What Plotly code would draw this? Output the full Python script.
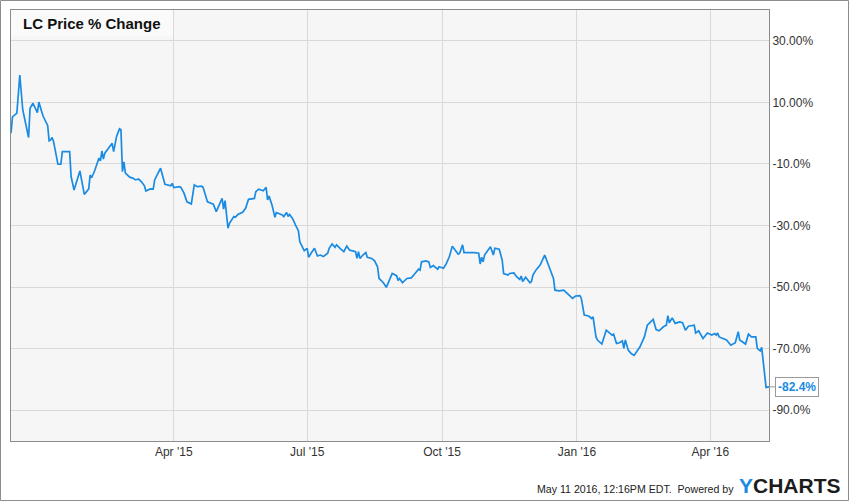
import plotly.graph_objects as go

dates = [
    "2014-12-11", "2014-12-12", "2014-12-15", "2014-12-17", "2014-12-19", "2014-12-21", "2014-12-23", "2014-12-24",
    "2014-12-26", "2014-12-29", "2014-12-30", "2015-01-01", "2015-01-02", "2015-01-05", "2015-01-06", "2015-01-07",
    "2015-01-08", "2015-01-09", "2015-01-12", "2015-01-14", "2015-01-15", "2015-01-20", "2015-01-21", "2015-01-23",
    "2015-01-27", "2015-01-30", "2015-02-02", "2015-02-03", "2015-02-04", "2015-02-06", "2015-02-09", "2015-02-10",
    "2015-02-11", "2015-02-12", "2015-02-13", "2015-02-18", "2015-02-19", "2015-02-21", "2015-02-23", "2015-02-24",
    "2015-02-25", "2015-02-26", "2015-02-27", "2015-03-02", "2015-03-04", "2015-03-06", "2015-03-08", "2015-03-10",
    "2015-03-12", "2015-03-13", "2015-03-16", "2015-03-18", "2015-03-19", "2015-03-23", "2015-03-26", "2015-03-30",
    "2015-03-31", "2015-04-01", "2015-04-05", "2015-04-06", "2015-04-08", "2015-04-10", "2015-04-12", "2015-04-13",
    "2015-04-15", "2015-04-17", "2015-04-20", "2015-04-21", "2015-04-24", "2015-04-28", "2015-04-30", "2015-05-04",
    "2015-05-05", "2015-05-06", "2015-05-08", "2015-05-09", "2015-05-12", "2015-05-13", "2015-05-15", "2015-05-18",
    "2015-05-20", "2015-05-22", "2015-05-26", "2015-05-27", "2015-05-29", "2015-06-01", "2015-06-03", "2015-06-04",
    "2015-06-05", "2015-06-07", "2015-06-09", "2015-06-10", "2015-06-14", "2015-06-15", "2015-06-17", "2015-06-18",
    "2015-06-19", "2015-06-21", "2015-06-23", "2015-06-25", "2015-06-26", "2015-06-28", "2015-06-29", "2015-07-01",
    "2015-07-02", "2015-07-04", "2015-07-06", "2015-07-08", "2015-07-10", "2015-07-12", "2015-07-15", "2015-07-16",
    "2015-07-18", "2015-07-20", "2015-07-21", "2015-07-24", "2015-07-26", "2015-07-28", "2015-07-30", "2015-08-03",
    "2015-08-04", "2015-08-05", "2015-08-06", "2015-08-08", "2015-08-10", "2015-08-11", "2015-08-14", "2015-08-16",
    "2015-08-18", "2015-08-19", "2015-08-22", "2015-08-24", "2015-08-26", "2015-08-28", "2015-08-31", "2015-09-01",
    "2015-09-02", "2015-09-04", "2015-09-07", "2015-09-10", "2015-09-12", "2015-09-15", "2015-09-16", "2015-09-17",
    "2015-09-20", "2015-09-22", "2015-09-23", "2015-09-25", "2015-09-28", "2015-09-29", "2015-10-02", "2015-10-04",
    "2015-10-06", "2015-10-08", "2015-10-10", "2015-10-12", "2015-10-13", "2015-10-15", "2015-10-16", "2015-10-20",
    "2015-10-21", "2015-10-23", "2015-10-26", "2015-10-27", "2015-10-28", "2015-10-29", "2015-10-30", "2015-11-01",
    "2015-11-03", "2015-11-05", "2015-11-06", "2015-11-09", "2015-11-11", "2015-11-12", "2015-11-15", "2015-11-16",
    "2015-11-19", "2015-11-21", "2015-11-23", "2015-11-24", "2015-11-25", "2015-11-27", "2015-11-30", "2015-12-01",
    "2015-12-02", "2015-12-04", "2015-12-07", "2015-12-10", "2015-12-12", "2015-12-15", "2015-12-16", "2015-12-17",
    "2015-12-20", "2015-12-23", "2015-12-25", "2015-12-27", "2015-12-29", "2015-12-31", "2016-01-03", "2016-01-04",
    "2016-01-06", "2016-01-09", "2016-01-11", "2016-01-12", "2016-01-14", "2016-01-15", "2016-01-18", "2016-01-21",
    "2016-01-25", "2016-01-26", "2016-01-28", "2016-01-30", "2016-02-01", "2016-02-02", "2016-02-03", "2016-02-05",
    "2016-02-07", "2016-02-09", "2016-02-13", "2016-02-16", "2016-02-18", "2016-02-22", "2016-02-24", "2016-02-26",
    "2016-02-29", "2016-03-02", "2016-03-03", "2016-03-04", "2016-03-06", "2016-03-08", "2016-03-11", "2016-03-13",
    "2016-03-15", "2016-03-17", "2016-03-21", "2016-03-22", "2016-03-24", "2016-03-27", "2016-03-30", "2016-04-02",
    "2016-04-04", "2016-04-05", "2016-04-06", "2016-04-07", "2016-04-12", "2016-04-15", "2016-04-18", "2016-04-20",
    "2016-04-21", "2016-04-25", "2016-04-27", "2016-04-29", "2016-05-02", "2016-05-03", "2016-05-05", "2016-05-06",
    "2016-05-09", "2016-05-11",
]

pct_change = [
    0.0, 5.3, 6.5, 18.9, 7.6, 3.2, -1.4, 8.1,
    9.7, 6.7, 10.1, 6.9, 5.4, 2.5, -2.5, -2.2,
    -1.4, -2.7, -10.1, -10.1, -6.0, -6.0, -14.1, -18.5,
    -12.3, -19.9, -18.1, -13.6, -14.5, -12.3, -8.1, -9.0,
    -5.8, -8.4, -6.5, -3.3, -6.0, -1.1, 1.4, 1.1,
    -12.5, -9.3, -13.0, -14.3, -14.6, -15.2, -14.9, -15.8,
    -17.1, -18.8, -18.1, -18.2, -15.2, -11.4, -16.6, -17.1,
    -16.3, -17.7, -17.4, -17.7, -19.5, -22.3, -22.8, -23.0,
    -16.8, -17.4, -17.2, -17.6, -22.3, -23.1, -25.5, -21.2,
    -24.7, -21.9, -30.9, -29.3, -27.1, -27.3, -26.3, -25.7,
    -24.4, -21.5, -21.2, -19.0, -18.2, -18.7, -17.6, -21.7,
    -20.4, -23.3, -27.3, -25.8, -26.6, -27.1, -25.8, -27.1,
    -26.4, -27.7, -29.8, -31.7, -35.3, -37.4, -38.2, -37.4,
    -40.3, -38.8, -37.4, -39.9, -39.6, -40.1, -39.0, -37.4,
    -36.0, -37.1, -36.3, -37.7, -38.5, -36.7, -38.0, -38.5,
    -40.7, -38.5, -40.7, -39.6, -38.8, -40.3, -40.7, -41.5,
    -43.4, -47.2, -48.6, -50.1, -47.7, -45.6, -46.3, -47.9,
    -47.2, -48.6, -47.2, -47.0, -45.9, -44.2, -44.5, -41.8,
    -41.5, -41.8, -43.6, -43.0, -44.2, -43.4, -43.9, -42.3,
    -40.1, -36.7, -38.0, -39.3, -39.0, -36.3, -38.8, -38.8,
    -38.6, -38.8, -39.0, -42.5, -40.3, -41.8, -39.6, -38.2,
    -36.9, -39.6, -37.4, -37.7, -41.2, -45.6, -46.1, -45.6,
    -45.4, -46.7, -47.5, -46.4, -48.2, -46.8, -48.6, -48.2,
    -46.1, -44.5, -42.8, -39.6, -42.3, -46.1, -47.2, -51.0,
    -51.2, -51.0, -51.9, -52.6, -53.7, -52.9, -52.8, -53.7,
    -59.1, -59.4, -60.2, -59.7, -66.2, -67.2, -68.5, -64.0,
    -65.6, -65.3, -68.3, -68.1, -67.5, -69.9, -67.2, -70.5,
    -71.6, -72.2, -69.4, -66.2, -62.4, -60.5, -63.8, -64.2,
    -62.9, -62.4, -59.3, -61.6, -60.0, -61.8, -61.3, -61.6,
    -64.0, -62.7, -62.4, -64.9, -64.2, -66.7, -64.9, -65.6,
    -65.1, -65.6, -64.9, -66.2, -67.2, -68.9, -68.1, -64.5,
    -67.2, -68.5, -65.3, -66.2, -66.2, -69.9, -70.7, -69.6,
    -82.6, -82.4,
]

x_tick_vals = ["2015-04-01", "2015-07-01", "2015-10-01", "2016-01-01", "2016-04-01"]
x_tick_text = ["Apr '15", "Jul '15", "Oct '15", "Jan '16", "Apr '16"]
y_tick_vals = [30, 10, -10, -30, -50, -70, -90]
y_tick_text = ["30.00%", "10.00%", "-10.0%", "-30.0%", "-50.0%", "-70.0%", "-90.0%"]

title_text = "LC Price % Change"
footer_text = "May 11 2016, 12:16PM EDT.  Powered by"
end_label = "-82.4%"

LINE = "#1a8be3"
FONT = "Liberation Sans, Arial, sans-serif"

fig = go.Figure()
fig.add_trace(go.Scatter(
    x=dates, y=pct_change, mode="lines",
    line=dict(color=LINE, width=1.7), hoverinfo="skip", showlegend=False,
))

# Plot area pixel geometry: left 11, right 769, top 10, bottom 441
W, H = 850, 501
L, R, T, B = 11, 769, 10, 441
pw, ph = R - L, B - T


def px(xp):
    return (xp - L) / pw


def py(yp):
    return (B - yp) / ph


fig.update_layout(
    width=W, height=H,
    margin=dict(l=L, r=W - R, t=T, b=H - B, pad=0),
    paper_bgcolor="white",
    plot_bgcolor="#f6f6f6",
    font=dict(family=FONT, size=12, color="#333333"),
    xaxis=dict(
        type="date",
        range=["2014-12-11", "2016-05-11"],
        tickvals=x_tick_vals, ticktext=x_tick_text,
        showgrid=True, gridcolor="#d9d9d9", gridwidth=1,
        showline=True, linecolor="#8c8c8c", linewidth=1, mirror=True,
        ticks="", zeroline=False,
        tickfont=dict(size=12, color="#333333"),
    ),
    yaxis=dict(
        side="right",
        range=[-100, 40],
        tickvals=y_tick_vals, ticktext=y_tick_text,
        showgrid=True, gridcolor="#d9d9d9", gridwidth=1,
        showline=True, linecolor="#8c8c8c", linewidth=1, mirror=True,
        ticks="",
        zeroline=False,
        tickfont=dict(size=12, color="#333333"),
    ),
    shapes=[
        dict(type="rect", xref="paper", yref="paper",
             x0=px(L), x1=px(173), y0=py(36), y1=py(T),
             fillcolor="#fafafa", line=dict(width=0), layer="between"),
        dict(type="rect", xref="paper", yref="paper",
             x0=px(0.5), x1=px(848.5), y0=py(500.5), y1=py(0.5),
             line=dict(color="#8c8c8c", width=1), fillcolor="rgba(0,0,0,0)",
             layer="above"),
    ],
    annotations=[
        dict(xref="paper", yref="paper", x=px(21), y=py(24),
             xanchor="left", yanchor="middle", showarrow=False,
             text="<b>" + title_text + "</b>",
             font=dict(family=FONT, size=15, color="#111111")),
        dict(xref="paper", yref="paper", x=px(736), y=py(489),
             xanchor="right", yanchor="middle", showarrow=False,
             text=footer_text,
             font=dict(family=FONT, size=10.6, color="#222222")),
        dict(xref="paper", yref="paper", x=px(737), y=py(485),
             xanchor="left", yanchor="middle", showarrow=False,
             text="<b><span style='color:#1a8be3'>Y</span>CHARTS</b>",
             font=dict(family=FONT, size=21, color="#1c1c1c")),
        dict(x=dates[-1], y=pct_change[-1], xref="x", yref="y",
             text="<b>" + end_label + "</b>",
             showarrow=True, arrowhead=0, arrowcolor="#999999", arrowwidth=1,
             ax=6, ay=0, xanchor="left", yanchor="middle",
             bordercolor="#999999", borderwidth=1, borderpad=2,
             bgcolor="white",
             font=dict(family=FONT, size=12, color=LINE)),
    ],
)

fig.write_html(
    "out.html",
    config={"displayModeBar": False, "staticPlot": True},
    post_script="document.body.style.margin='0';document.body.style.overflow='hidden';",
)
